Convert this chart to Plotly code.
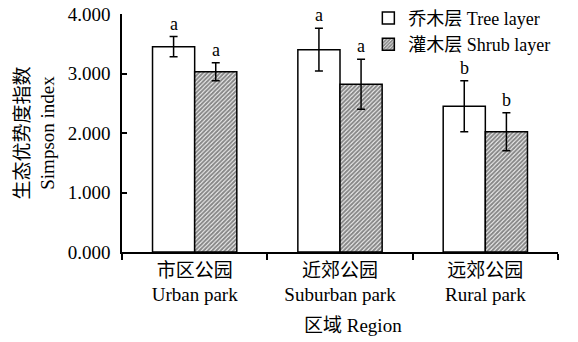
import plotly.graph_objects as go

# Simpson dominance index by park region, tree vs shrub layer
regions = ["市区公园<br>Urban park", "近郊公园<br>Suburban park", "远郊公园<br>Rural park"]
tree_vals = [3.45, 3.40, 2.45]
tree_err = [0.17, 0.36, 0.43]
shrub_vals = [3.03, 2.82, 2.02]
shrub_err = [0.15, 0.42, 0.32]
tree_letters = ["a", "a", "b"]
shrub_letters = ["a", "a", "b"]

SERIF = "Liberation Serif, Times New Roman, Noto Sans CJK SC, serif"
FS = 19

fig = go.Figure()
fig.add_trace(go.Bar(
    name="乔木层 Tree layer", x=regions, y=tree_vals,
    marker=dict(color="white", line=dict(color="black", width=1.5)),
    error_y=dict(type="data", array=tree_err, color="black", thickness=1.5, width=4),
))
fig.add_trace(go.Bar(
    name="灌木层 Shrub layer", x=regions, y=shrub_vals,
    marker=dict(color="white", line=dict(color="black", width=1.5),
                pattern=dict(shape="/", fgcolor="#111111", bgcolor="white",
                             size=3, solidity=0.7)),
    error_y=dict(type="data", array=shrub_err, color="black", thickness=1.5, width=4),
))

# significance letters above each error bar
half_bar_px = 21
for i, r in enumerate(regions):
    fig.add_annotation(x=r, y=tree_vals[i] + tree_err[i], text=tree_letters[i],
                       showarrow=False, xshift=-half_bar_px, yshift=1, yanchor="bottom",
                       font=dict(family=SERIF, size=18, color="black"))
    fig.add_annotation(x=r, y=shrub_vals[i] + shrub_err[i], text=shrub_letters[i],
                       showarrow=False, xshift=half_bar_px, yshift=1, yanchor="bottom",
                       font=dict(family=SERIF, size=18, color="black"))

fig.add_annotation(x=0.53, y=-0.307, xref="paper", yref="paper", text="区域 Region",
                   showarrow=False, yanchor="middle",
                   font=dict(family=SERIF, size=FS, color="black"))

fig.update_layout(
    width=578, height=342,
    margin=dict(l=122, r=20, t=14, b=90, autoexpand=False),
    paper_bgcolor="white", plot_bgcolor="white",
    barmode="group", bargap=0.42, bargroupgap=0,
    font=dict(family=SERIF, size=FS, color="black"),
    showlegend=True,
    legend=dict(x=0.565, y=1.06, xanchor="left", yanchor="top",
                bgcolor="rgba(0,0,0,0)", font=dict(family=SERIF, size=18),
                tracegroupgap=0, itemwidth=30),
    xaxis=dict(showline=True, linecolor="black", linewidth=1.5,
               ticks="outside", ticklen=6, tickwidth=1.5, tickcolor="black",
               tickson="boundaries", range=[-0.5, 2.5], showgrid=False,
               tickfont=dict(family=SERIF, size=FS)),
    yaxis=dict(range=[0, 4], tickvals=[0, 1, 2, 3, 4], tickformat=".3f",
               showline=True, linecolor="black", linewidth=1.5,
               ticks="inside", ticklen=5, tickwidth=1.5, tickcolor="black",
               showgrid=False, zeroline=False, ticklabelstandoff=6,
               tickfont=dict(family=SERIF, size=FS),
               title=dict(text="生态优势度指数<br>Simpson index", standoff=8,
                          font=dict(family=SERIF, size=FS))),
)

fig.write_html("out.html")
